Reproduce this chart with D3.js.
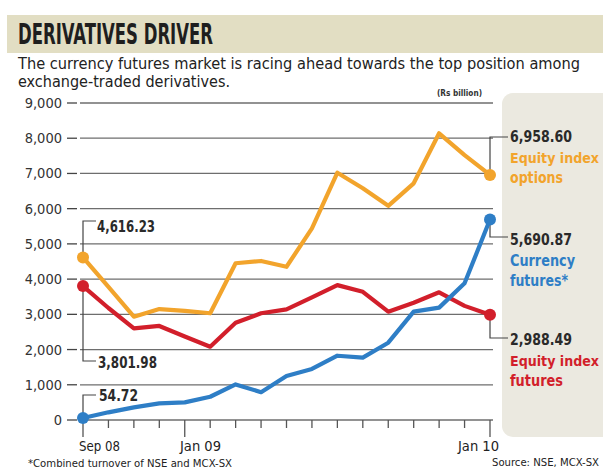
<!DOCTYPE html>
<html>
<head>
<meta charset="utf-8">
<script src="https://cdn.jsdelivr.net/npm/d3@7"></script>
<style>
  body { margin:0; background:#fff; }
  svg text { font-family: "DejaVu Sans Condensed", "DejaVu Sans", sans-serif; font-stretch: condensed; }
</style>
</head>
<body>
<svg width="603" height="470"></svg>
<script>
var months = ["Sep 08","Oct 08","Nov 08","Dec 08","Jan 09","Feb 09","Mar 09","Apr 09","May 09",
              "Jun 09","Jul 09","Aug 09","Sep 09","Oct 09","Nov 09","Dec 09","Jan 10"];
var indexOptions  = [4616.23,3780,2933,3150,3100,3030,4450,4515,4350,5440,7020,6580,6080,6720,8140,7520,6958.60];
var indexFutures  = [3801.98,3180,2600,2670,2370,2080,2760,3030,3140,3480,3830,3640,3075,3330,3625,3240,2988.49];
var currFutures   = [54.72,218,360,470,500,660,1010,790,1250,1450,1825,1770,2195,3075,3190,3880,5690.87];
var yTicks = [0,1000,2000,3000,4000,5000,6000,7000,8000,9000];
var labelTicks = ["Sep 08","Jan 09","Jan 10"];

var svg = d3.select("svg");
var x = d3.scalePoint().domain(months).range([83,490]);
var y = d3.scaleLinear().domain([0,9000]).range([420,103]);
var fmt = d3.format(",");

// squeeze text to the width it has in the print
function fit(t, w){
  t.attr("textLength", w).attr("lengthAdjust","spacingAndGlyphs");
  return t;
}

// title band
svg.append("rect").attr("x",7).attr("y",15).attr("width",600).attr("height",38).attr("fill","#e2dec3");
fit(svg.append("text").attr("x",18).attr("y",44).text("DERIVATIVES DRIVER")
  .style("font-size","28px").style("font-weight","bold").attr("fill","#1e1e1e"), 195);
fit(svg.append("text").attr("x",18).attr("y",69)
  .text("The currency futures market is racing ahead towards the top position among")
  .style("font-size","15px").attr("fill","#222"), 562);
fit(svg.append("text").attr("x",18).attr("y",87).text("exchange-traded derivatives.")
  .style("font-size","15px").attr("fill","#222"), 212);
fit(svg.append("text").attr("x",437).attr("y",96).text("(Rs billion)")
  .style("font-size","9px").style("font-weight","bold").attr("fill","#333"), 45);

// side panel
svg.append("rect").attr("x",502).attr("y",93).attr("width",120).attr("height",344).attr("rx",11)
  .attr("fill","#ebe9e0");

// grid and y ticks
var g = svg.append("g");
g.selectAll(".grid").data(yTicks).enter().append("line")
  .attr("x1",80).attr("x2",493).attr("y1",function(d){return y(d);}).attr("y2",function(d){return y(d);})
  .attr("stroke","#6e6e6e").attr("stroke-width",1.3);
g.selectAll(".tk").data(yTicks).enter().append("line")
  .attr("x1",67).attr("x2",77).attr("y1",function(d){return y(d);}).attr("y2",function(d){return y(d);})
  .attr("stroke","#444").attr("stroke-width",1.3);
g.selectAll(".yl").data(yTicks).enter().append("text")
  .attr("x",62).attr("y",function(d){return y(d)+5;}).attr("text-anchor","end")
  .text(function(d){return fmt(d);}).style("font-size","14.5px").attr("fill","#333");

// x ticks
g.selectAll(".xt").data(months).enter().append("line")
  .attr("x1",function(d){return x(d);}).attr("x2",function(d){return x(d);})
  .attr("y1",420).attr("y2",function(d){return labelTicks.indexOf(d)>=0?437:428;})
  .attr("stroke","#555").attr("stroke-width",1.3);
var xl = [79,180,458];
labelTicks.forEach(function(d,i){
  fit(svg.append("text").attr("x",xl[i]).attr("y",451).text(d)
    .style("font-size","14px").attr("fill","#222"), 41);
});

// leaders
function leader(pts){
  svg.append("path").attr("d",d3.line()(pts)).attr("fill","none").attr("stroke","#444").attr("stroke-width",1.2);
}
var last = months[16], first = months[0];
leader([[x(first),y(indexOptions[0])],[x(first),221],[96,221]]);
leader([[x(first),y(indexFutures[0])],[x(first),361],[96,361]]);
leader([[x(first),y(currFutures[0])],[x(first),395],[96,395]]);
leader([[x(last),y(indexOptions[16])],[x(last),137],[508,137]]);
leader([[x(last),y(currFutures[16])],[x(last),237],[508,237]]);
leader([[x(last),y(indexFutures[16])],[x(last),338],[508,338]]);

// lines
var series = [
  {name:"opt", vals:indexOptions, color:"#f2a42c"},
  {name:"fut", vals:indexFutures, color:"#d21f2b"},
  {name:"cur", vals:currFutures, color:"#2e7ec6"}
];
var line = d3.line().x(function(d,i){return x(months[i]);}).y(function(d){return y(d);});
series.forEach(function(s){
  svg.append("path").attr("d",line(s.vals)).attr("fill","none").attr("stroke",s.color)
    .attr("stroke-width",4.2).attr("stroke-linejoin","round");
  [0,16].forEach(function(i){
    svg.append("circle").attr("cx",x(months[i])).attr("cy",y(s.vals[i])).attr("r",6).attr("fill",s.color);
  });
});

// value labels
function lab(xx,yy,t,col,w,fs){
  return fit(svg.append("text").attr("x",xx).attr("y",yy).text(t).attr("fill",col)
    .style("font-size",(fs||15)+"px").style("font-weight","bold"), w);
}
var f2 = d3.format(",.2f");
lab(97,232,f2(indexOptions[0]),"#2a2a2a",58);
lab(98,368,f2(indexFutures[0]),"#2a2a2a",59);
lab(99,401,f2(currFutures[0]),"#2a2a2a",39);
lab(510,142,f2(indexOptions[16]),"#2a2a2a",62);
lab(510,163,"Equity index","#f2a42c",89,14);
lab(510,183,"options","#f2a42c",53);
lab(510,245,f2(currFutures[16]),"#2a2a2a",62);
lab(510,266,"Currency","#2e7ec6",65);
lab(510,286,"futures*","#2e7ec6",58);
lab(510,345,f2(indexFutures[16]),"#2a2a2a",62);
lab(510,366,"Equity index","#d21f2b",89,14);
lab(510,386,"futures","#d21f2b",53);

// footnotes
fit(svg.append("text").attr("x",28).attr("y",467).text("*Combined turnover of NSE and MCX-SX")
  .style("font-size","11px").attr("fill","#222"), 204);
fit(svg.append("text").attr("x",492).attr("y",466).text("Source: NSE, MCX-SX")
  .style("font-size","11px").attr("fill","#222"), 107);
</script>
</body>
</html>
